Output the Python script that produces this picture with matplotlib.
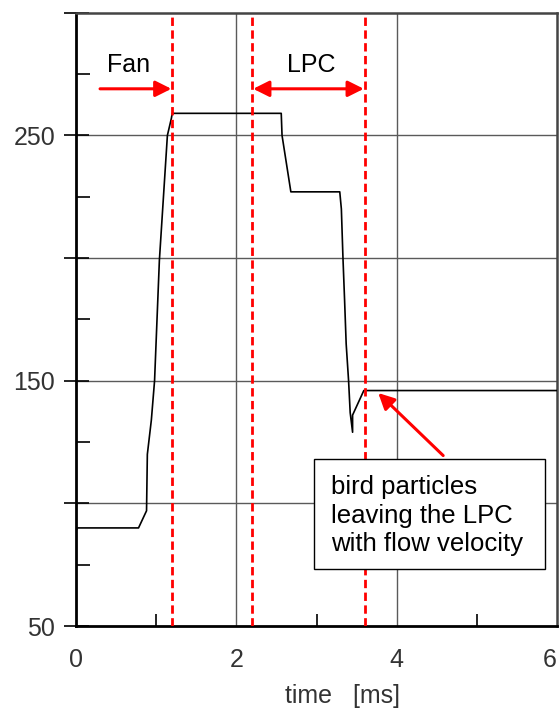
#!/usr/bin/env python3
"""Bird particle velocity through fan and LPC vs time."""

import matplotlib
matplotlib.use('Agg')
import matplotlib.pyplot as plt
from matplotlib.patches import Rectangle

# Curve
time_ms = [0.0, 0.02, 0.78, 0.88, 0.89, 0.94, 0.98, 1.04, 1.14, 1.19, 1.20,
           2.56, 2.57, 2.68, 3.29, 3.31, 3.33, 3.35, 3.37, 3.40, 3.42, 3.45,
           3.45, 3.59, 6.0]
velocity = [89, 90, 90, 97, 120, 134, 150, 199, 250, 257, 259,
            259, 250, 227, 227, 220, 200, 183, 165, 150, 137, 129,
            136, 146, 146]

# Component boundaries (red dashed lines)
boundaries = [1.2, 2.2, 3.6]

y_labels = [50, 150, 250]
x_labels = [0, 2, 4, 6]

plt.rcParams['font.family'] = ['Liberation Sans', 'DejaVu Sans']

fig = plt.figure(figsize=(5.6, 7.09), dpi=100)
ax = fig.add_axes([0.1357, 0.117, 0.859, 0.865])

ax.set_xlim(0, 6)
ax.set_ylim(50, 300)

# grid
for yv in [100, 150, 200, 250]:
    ax.axhline(yv, color='#5a5a5a', lw=1.0, zorder=1)
for xv in [2, 4]:
    ax.axvline(xv, color='#5a5a5a', lw=1.0, zorder=1)

ax.plot(time_ms, velocity, color='black', lw=1.2, zorder=3)

for b in boundaries:
    ax.axvline(b, color='#ff0000', lw=2.0, ls=(0, (3, 1.6)), zorder=4)

# ticks
ax.set_yticks([50, 100, 150, 200, 250, 300])
ax.set_yticklabels([str(v) if v in y_labels else '' for v in [50, 100, 150, 200, 250, 300]])
ax.set_yticks([75, 125, 175, 225, 275], minor=True)
ax.set_xticks(x_labels)
ax.set_xticklabels([str(v) for v in x_labels])
ax.set_xticks([1, 3, 5], minor=True)
ax.tick_params(axis='y', which='major', direction='inout', length=18, width=1.2,
               labelsize=18, labelcolor='#333333', pad=6)
ax.tick_params(axis='y', which='minor', direction='in', length=10, width=1.2)
ax.tick_params(axis='x', which='major', direction='in', length=0,
               labelsize=18, labelcolor='#333333', pad=16)
ax.tick_params(axis='x', which='minor', direction='in', length=9, width=1.2)
ax.get_xticklabels()[-1].set_ha('right')

for side in ['left', 'bottom']:
    ax.spines[side].set_linewidth(2.0)
    ax.spines[side].set_color('black')
for side in ['top', 'right']:
    ax.spines[side].set_linewidth(1.8)
    ax.spines[side].set_color('#444444')

fig.text(0.611, 0.009, 'time   [ms]', fontsize=18, color='#333333',
         ha='center', va='baseline')

# annotations
arrow_red = dict(arrowstyle='-|>', color='#ff0000', lw=2.2,
                 mutation_scale=24, shrinkA=0, shrinkB=0)
ax.annotate('', xy=(1.19, 269), xytext=(0.3, 269), arrowprops=arrow_red, zorder=5)
ax.text(0.656, 276, 'Fan', fontsize=18, ha='center', va='baseline')

arrow_both = dict(arrowstyle='<|-|>', color='#ff0000', lw=2.2,
                  mutation_scale=24, shrinkA=0, shrinkB=0)
ax.annotate('', xy=(3.59, 269), xytext=(2.21, 269), arrowprops=arrow_both, zorder=5)
ax.text(2.94, 275.7, 'LPC', fontsize=18, ha='center', va='baseline')

ax.annotate('', xy=(3.77, 145), xytext=(4.58, 119.5),
            arrowprops=arrow_red, zorder=5)
ax.add_patch(Rectangle((2.9625, 73.2), 2.8875, 44.9, fc='white', ec='black',
                       lw=1.0, zorder=6))
ax.text(3.175, 95.0, 'bird particles\nleaving the LPC\nwith flow velocity',
        fontsize=18.5, ha='left', va='center', linespacing=1.22, zorder=7)

fig.savefig('out.png', dpi=100)
